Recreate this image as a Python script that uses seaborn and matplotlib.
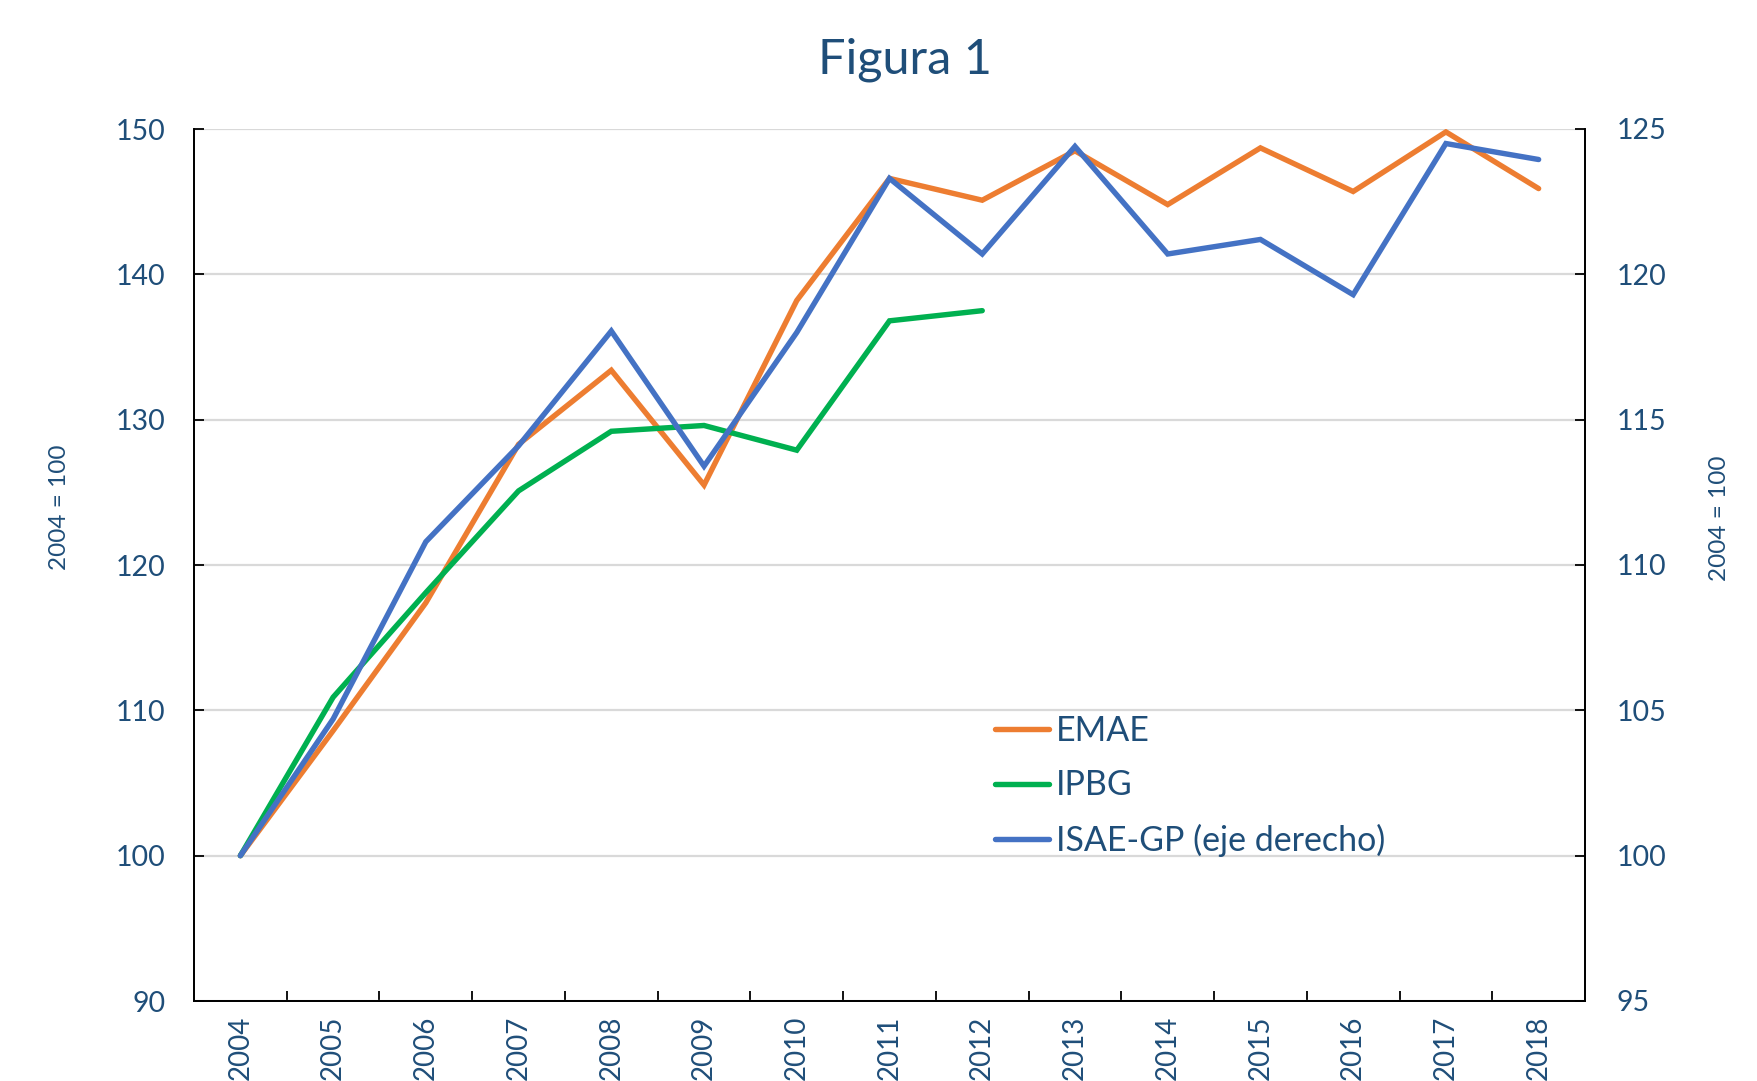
import pandas as pd
import numpy as np
import matplotlib
matplotlib.use('Agg')
import matplotlib.pyplot as plt
import seaborn as sns

# Data (index 2004 = 100)
years = [str(y) for y in range(2004, 2019)]
emae = [100, 108.6, 117.4, 128.3, 133.4, 125.5, 138.2, 146.6, 145.1,
        148.5, 144.8, 148.7, 145.7, 149.8, 145.9]
ipbg = [100, 110.9, 118.1, 125.1, 129.2, 129.6, 127.9, 136.8, 137.5,
        np.nan, np.nan, np.nan, np.nan, np.nan, np.nan]
isae_gp = [100, 104.7, 110.8, 114.1, 118.05, 113.4, 118.0, 123.3, 120.7,
           124.4, 120.7, 121.2, 119.3, 124.5, 123.95]

left_ticks = [90, 100, 110, 120, 130, 140, 150]
right_ticks = [95, 100, 105, 110, 115, 120, 125]

sns.set_style('white')
plt.rcParams['font.family'] = ['Lato', 'DejaVu Sans']

text_color = '#1F4E79'
c_emae, c_ipbg, c_isae = '#ED7D31', '#00B050', '#4472C4'
lw = 3.9

df = pd.DataFrame({'pos': np.arange(len(years)), 'EMAE': emae,
                   'IPBG': ipbg, 'ISAE-GP': isae_gp})

W, H = 1758, 1081
fig = plt.figure(figsize=(W / 100, H / 100), dpi=100)
ax = fig.add_axes([194 / W, 1 - 1001 / H, 1391 / W, 872 / H])

sns.lineplot(data=df, x='pos', y='EMAE', ax=ax, color=c_emae, lw=lw,
             solid_capstyle='round', solid_joinstyle='miter', label='EMAE')
sns.lineplot(data=df.dropna(subset=['IPBG']), x='pos', y='IPBG', ax=ax,
             color=c_ipbg, lw=lw, solid_capstyle='round',
             solid_joinstyle='miter', label='IPBG')

ax2 = ax.twinx()
sns.lineplot(data=df, x='pos', y='ISAE-GP', ax=ax2, color=c_isae, lw=lw,
             solid_capstyle='round', solid_joinstyle='miter',
             label='ISAE-GP (eje derecho)')

# axes limits / ticks
ax.set_xlim(-0.5, len(years) - 0.5)
ax.set_ylim(90, 150)
ax2.set_ylim(95, 125)
ax.set_yticks(left_ticks)
ax2.set_yticks(right_ticks)
ax.set_xticks(df['pos'])
ax.set_xticklabels(years, rotation=90, va='top')
ax.set_xticks(np.arange(0.5, len(years) - 1, 1), minor=True)

ax.grid(axis='y', color='#D9D9D9', lw=1.6)
ax.grid(axis='x', visible=False)
ax2.grid(False)
ax.set_axisbelow(True)

for a in (ax, ax2):
    a.set_xlabel('')
    a.set_ylabel('')
    for s in a.spines.values():
        s.set_color('black')
        s.set_linewidth(1.3)
    a.spines['top'].set_visible(False)
    if a.get_legend() is not None:
        a.get_legend().remove()

ax.tick_params(axis='x', which='major', length=0, pad=10.5,
               labelsize=20, labelcolor=text_color)
ax.tick_params(axis='x', which='minor', direction='in', length=7.5,
               width=1.3, color='black', bottom=True)
ax.tick_params(axis='y', direction='in', length=7.5, width=1.3,
               color='black', pad=20.5, labelsize=20.5, labelcolor=text_color,
               left=True)
ax2.tick_params(axis='y', direction='in', length=7.5, width=1.3,
                color='black', pad=23, labelsize=20.5, labelcolor=text_color,
                right=True)

# title and axis notes
fig.text(905 / W, 1 - 74 / H, 'Figura 1', ha='center', va='baseline',
         fontsize=35, color=text_color)
fig.text(60 / W, 1 - 507 / H, '2004 = 100', ha='center', va='center',
         rotation=90, fontsize=17.5, color=text_color)
fig.text(1720 / W, 1 - 518 / H, '2004 = 100', ha='center', va='center',
         rotation=90, fontsize=17.5, color=text_color)

# combined legend
handles = ax.get_lines()[:2] + ax2.get_lines()[:1]
labels = ['EMAE', 'IPBG', 'ISAE-GP (eje derecho)']
fig.legend(handles, labels, loc='center left',
           bbox_to_anchor=(995 / W, 1 - 786 / H), frameon=False,
           borderpad=0, borderaxespad=0, handlelength=1.6,
           handletextpad=0.18, labelspacing=0.66, fontsize=24.5,
           labelcolor=text_color)

fig.savefig('out.png', dpi=100)
